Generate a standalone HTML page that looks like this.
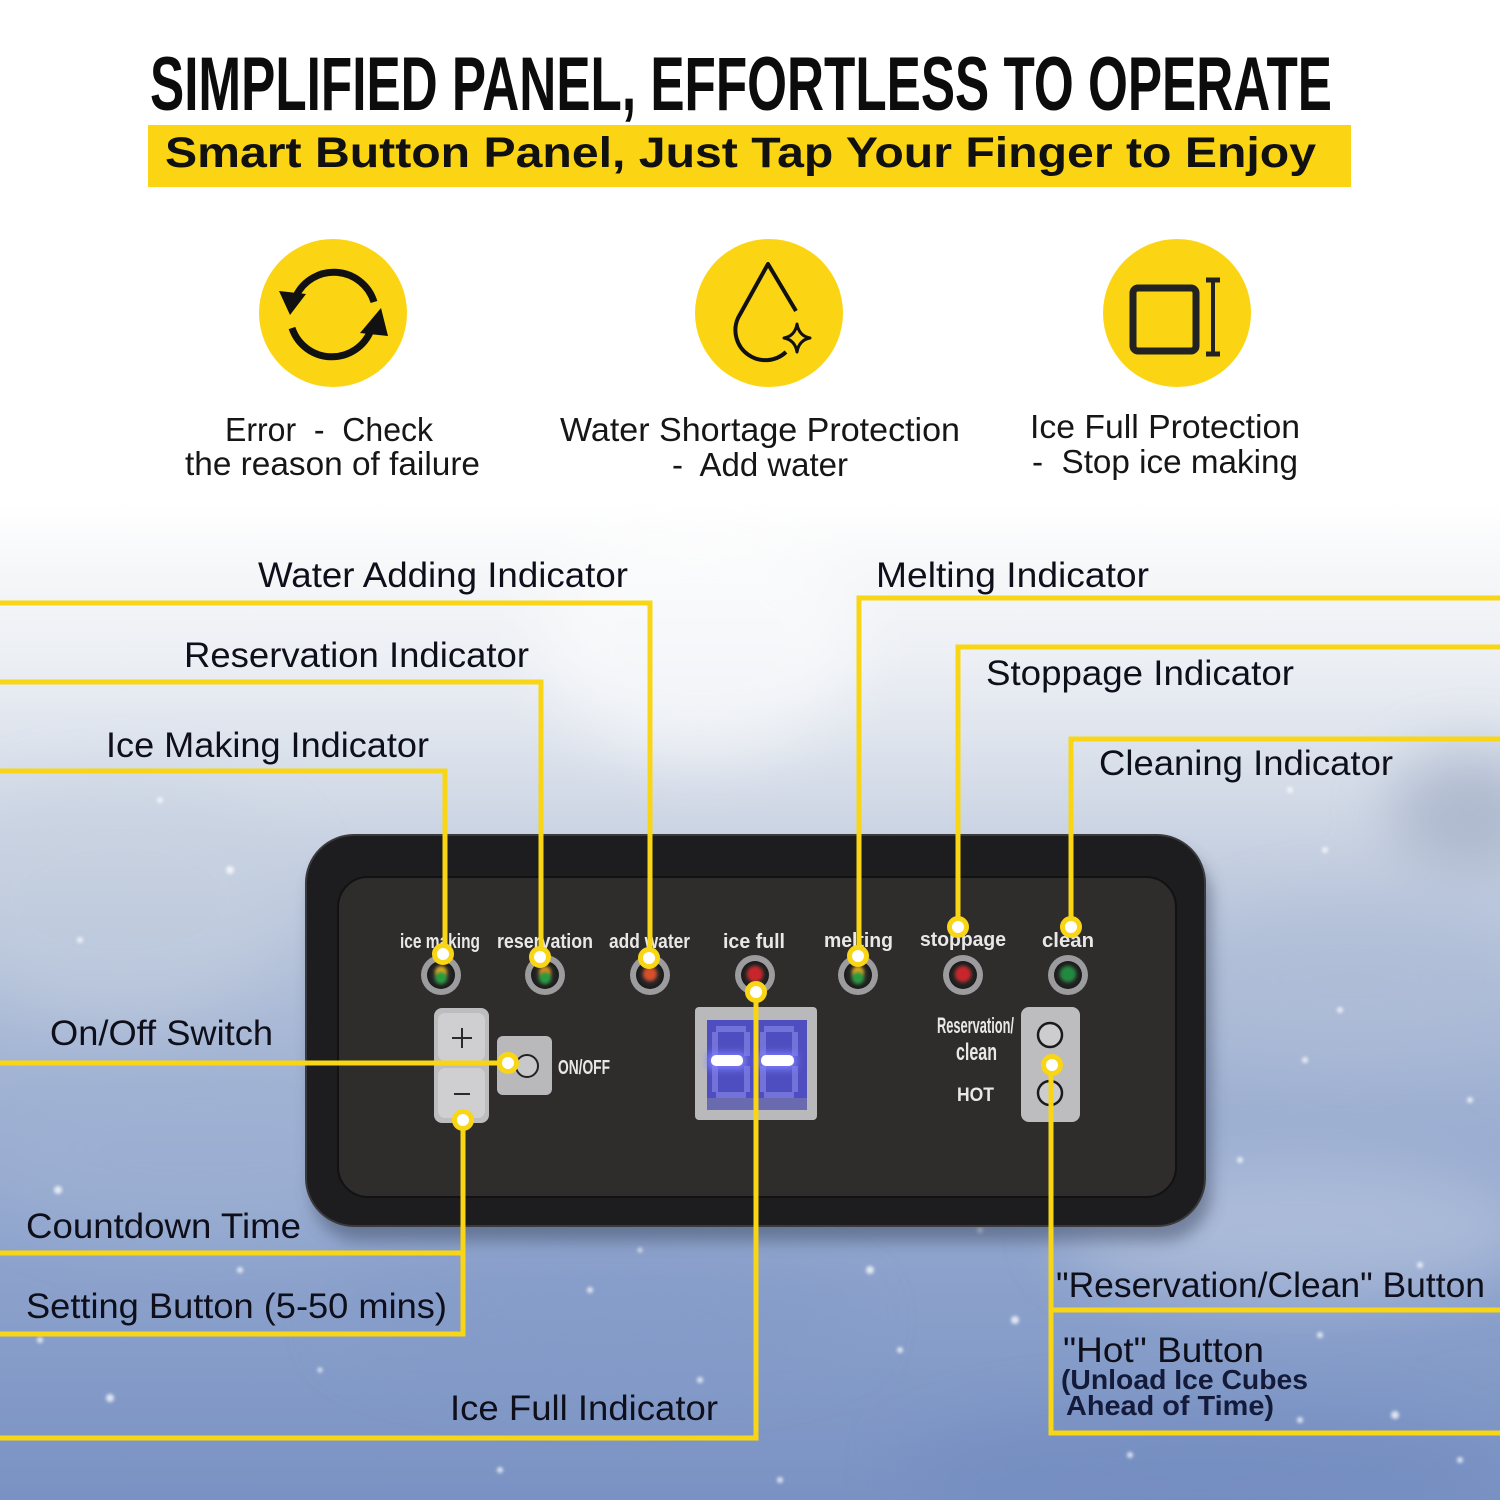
<!DOCTYPE html>
<html><head><meta charset="utf-8">
<style>
html,body{margin:0;padding:0;width:1500px;height:1500px;overflow:hidden;background:#fff}
svg{display:block}
</style></head><body>
<svg width="1500" height="1500" viewBox="0 0 1500 1500" xmlns="http://www.w3.org/2000/svg">
<defs>
<linearGradient id="bg" x1="0" y1="0" x2="0" y2="1500" gradientUnits="userSpaceOnUse">
 <stop offset="0" stop-color="#ffffff"/>
 <stop offset="0.335" stop-color="#ffffff"/>
 <stop offset="0.38" stop-color="#f6f7f9"/>
 <stop offset="0.44" stop-color="#eceff4"/>
 <stop offset="0.50" stop-color="#dce2ec"/>
 <stop offset="0.57" stop-color="#c6d0e1"/>
 <stop offset="0.64" stop-color="#b2c0d9"/>
 <stop offset="0.74" stop-color="#9eb0d2"/>
 <stop offset="0.85" stop-color="#8ca2cc"/>
 <stop offset="1" stop-color="#7a92c3"/>
</linearGradient>
<filter id="b30" x="-50%" y="-50%" width="200%" height="200%"><feGaussianBlur stdDeviation="30"/></filter>
<filter id="b2" x="-50%" y="-50%" width="200%" height="200%"><feGaussianBlur stdDeviation="1.6"/></filter>
<filter id="b4" x="-50%" y="-50%" width="200%" height="200%"><feGaussianBlur stdDeviation="4"/></filter>
<filter id="sh" x="-20%" y="-20%" width="140%" height="140%"><feGaussianBlur stdDeviation="8"/></filter>
<radialGradient id="ledg" cx="0.5" cy="0.5" r="0.5"><stop offset="0" stop-color="#3a3a3a"/><stop offset="1" stop-color="#1a1a1a"/></radialGradient>
</defs>

<!-- background -->
<rect x="0" y="0" width="1500" height="1500" fill="url(#bg)"/>
<g filter="url(#b30)" opacity="0.5">
 <ellipse cx="700" cy="640" rx="160" ry="120" fill="#ffffff"/>
 <ellipse cx="120" cy="900" rx="180" ry="120" fill="#c7d1e0"/>
 <ellipse cx="1470" cy="810" rx="80" ry="60" fill="#8e9cb8"/>
 <ellipse cx="1350" cy="980" rx="160" ry="80" fill="#aebcd6"/>
 <ellipse cx="200" cy="1150" rx="220" ry="90" fill="#9fb2d4"/>
 <ellipse cx="1300" cy="1230" rx="240" ry="70" fill="#c3cde2"/>
 <ellipse cx="600" cy="1320" rx="260" ry="60" fill="#8299c8"/>
 <ellipse cx="1200" cy="1470" rx="300" ry="60" fill="#6f89bf"/>
</g>
<g fill="#ffffff" filter="url(#b2)" opacity="0.75">
 <circle cx="58" cy="1190" r="4"/><circle cx="240" cy="1270" r="3"/><circle cx="390" cy="1190" r="3"/>
 <circle cx="110" cy="1398" r="4"/><circle cx="320" cy="1370" r="2.5"/><circle cx="590" cy="1290" r="3"/>
 <circle cx="640" cy="1250" r="2.5"/><circle cx="700" cy="1380" r="3"/><circle cx="870" cy="1270" r="4"/>
 <circle cx="900" cy="1350" r="3"/><circle cx="980" cy="1230" r="3"/><circle cx="1015" cy="1320" r="4"/>
 <circle cx="1130" cy="1455" r="3"/><circle cx="1300" cy="1420" r="3"/><circle cx="1420" cy="1265" r="3"/>
 <circle cx="1395" cy="1415" r="4"/><circle cx="1460" cy="1460" r="3"/><circle cx="1320" cy="1335" r="3"/>
 <circle cx="1290" cy="790" r="3"/><circle cx="1325" cy="850" r="3"/><circle cx="1340" cy="1010" r="3"/>
 <circle cx="1305" cy="1060" r="3"/><circle cx="160" cy="800" r="3"/><circle cx="230" cy="870" r="4"/>
 <circle cx="80" cy="940" r="3"/><circle cx="500" cy="1470" r="3"/><circle cx="780" cy="1480" r="3"/>
 <circle cx="40" cy="1340" r="3"/><circle cx="1240" cy="1160" r="3"/><circle cx="1470" cy="1100" r="3"/>
</g>

<!-- Title -->
<text x="150" y="110" font-family="'Liberation Sans Narrow','Liberation Sans',sans-serif" font-weight="bold" font-size="76" fill="#0c0c0c" textLength="1182" lengthAdjust="spacingAndGlyphs">SIMPLIFIED PANEL, EFFORTLESS TO OPERATE</text>
<rect x="148" y="125" width="1203" height="62" fill="#FBD514"/>
<text x="165" y="167" font-family="'Liberation Sans',sans-serif" font-weight="bold" font-size="43" fill="#111" textLength="1151" lengthAdjust="spacingAndGlyphs">Smart Button Panel, Just Tap Your Finger to Enjoy</text>

<!-- Icons -->
<circle cx="333" cy="313" r="74" fill="#FBD514"/>
<circle cx="769" cy="313" r="74" fill="#FBD514"/>
<circle cx="1177" cy="313" r="74" fill="#FBD514"/>
<g fill="none" stroke="#111" stroke-width="7" stroke-linecap="butt">
 <path d="M 374 302 A 42 42 0 0 0 296 296"/>
 <path d="M 292 328 A 42 42 0 0 0 371 330"/>
</g>
<polygon points="279,291 306,294 290,315" fill="#111"/>
<polygon points="360,333 388,336 381,308" fill="#111"/>
<g fill="none" stroke="#111" stroke-width="4" stroke-linejoin="round">
 <path d="M 796 311 L 768 264 L 738 318 A 30 30 0 0 0 786 352"/>
 <path d="M797 324 Q799 336 810 338 Q799 340 797 352 Q795 340 784 338 Q795 336 797 324 Z" stroke-width="3"/>
</g>
<rect x="1133" y="288" width="63" height="63" rx="5" fill="none" stroke="#222" stroke-width="7"/>
<g stroke="#222" stroke-width="4"><line x1="1213" y1="279" x2="1213" y2="355"/><line x1="1206" y1="280" x2="1220" y2="280" stroke-width="5"/><line x1="1206" y1="354" x2="1220" y2="354" stroke-width="5"/></g>

<g font-family="'Liberation Sans',sans-serif" font-size="33" fill="#161616">
 <text x="225" y="441" textLength="208" lengthAdjust="spacingAndGlyphs" xml:space="preserve">Error  -  Check</text>
 <text x="185" y="475" textLength="295" lengthAdjust="spacingAndGlyphs">the reason of failure</text>
 <text x="560" y="441" textLength="400" lengthAdjust="spacingAndGlyphs">Water Shortage Protection</text>
 <text x="672" y="476" textLength="176" lengthAdjust="spacingAndGlyphs" xml:space="preserve">-  Add water</text>
 <text x="1030" y="438" textLength="270" lengthAdjust="spacingAndGlyphs">Ice Full Protection</text>
 <text x="1032" y="473" textLength="266" lengthAdjust="spacingAndGlyphs" xml:space="preserve">-  Stop ice making</text>
</g>

<!-- Panel -->
<rect x="312" y="850" width="899" height="391" rx="48" fill="#3b4660" opacity="0.5" filter="url(#sh)"/>
<rect x="306" y="835" width="899" height="391" rx="48" fill="#1d1c1e" stroke="#3a393b" stroke-width="2"/>
<rect x="338" y="877" width="838" height="320" rx="30" fill="#2f2c2c" stroke="#121212" stroke-width="2"/>

<!-- LED labels -->
<g font-family="'Liberation Sans Narrow','Liberation Sans',sans-serif" font-weight="bold" font-size="20" fill="#e8e8e8">
 <text x="400" y="948" textLength="80" lengthAdjust="spacingAndGlyphs">ice making</text>
 <text x="497" y="948" textLength="96" lengthAdjust="spacingAndGlyphs">reservation</text>
 <text x="609" y="948" textLength="81" lengthAdjust="spacingAndGlyphs">add water</text>
 <text x="723" y="948" textLength="62" lengthAdjust="spacingAndGlyphs">ice full</text>
 <text x="824" y="947" textLength="69" lengthAdjust="spacingAndGlyphs">melting</text>
 <text x="920" y="946" textLength="86" lengthAdjust="spacingAndGlyphs">stoppage</text>
 <text x="1042" y="947" textLength="52" lengthAdjust="spacingAndGlyphs">clean</text>
</g>
<!-- LEDs -->
<g>
 <g transform="translate(441,975)"><circle r="20" fill="#9c9c9e"/><circle r="14" fill="url(#ledg)"/><circle cx="0" cy="-3" r="6" fill="#d9a520" filter="url(#b2)"/><circle cx="0" cy="3" r="6" fill="#2a9a40" filter="url(#b2)"/></g>
 <g transform="translate(545,975)"><circle r="20" fill="#9c9c9e"/><circle r="14" fill="url(#ledg)"/><circle cx="0" cy="-3" r="6" fill="#d98a20" filter="url(#b2)"/><circle cx="0" cy="3" r="6" fill="#2a9a40" filter="url(#b2)"/></g>
 <g transform="translate(650,975)"><circle r="20" fill="#9c9c9e"/><circle r="14" fill="url(#ledg)"/><circle cx="0" cy="-1" r="7" fill="#d8502a" filter="url(#b2)"/></g>
 <g transform="translate(755,975)"><circle r="20" fill="#9c9c9e"/><circle r="14" fill="url(#ledg)"/><circle cx="0" cy="-1" r="8" fill="#c8282a" filter="url(#b2)"/></g>
 <g transform="translate(858,975)"><circle r="20" fill="#9c9c9e"/><circle r="14" fill="url(#ledg)"/><circle cx="0" cy="-3" r="6" fill="#d9a520" filter="url(#b2)"/><circle cx="0" cy="3" r="6" fill="#2a9a40" filter="url(#b2)"/></g>
 <g transform="translate(963,975)"><circle r="20" fill="#9c9c9e"/><circle r="14" fill="url(#ledg)"/><circle cx="0" cy="-1" r="8" fill="#c8282a" filter="url(#b2)"/></g>
 <g transform="translate(1068,975)"><circle r="20" fill="#9c9c9e"/><circle r="14" fill="url(#ledg)"/><circle cx="0" cy="-1" r="8" fill="#228a40" filter="url(#b2)"/></g>
</g>

<!-- +/- block -->
<rect x="434" y="1008" width="55" height="115" rx="8" fill="#bdbdbf"/>
<rect x="438" y="1013" width="47" height="48" rx="7" fill="#cfcfd1"/>
<rect x="438" y="1068" width="47" height="50" rx="7" fill="#cfcfd1"/>
<g stroke="#2a2a2a" stroke-width="2"><line x1="452" y1="1038" x2="472" y2="1038"/><line x1="462" y1="1028" x2="462" y2="1048"/><line x1="454" y1="1094" x2="470" y2="1094"/></g>
<!-- ON/OFF -->
<rect x="497" y="1036" width="55" height="59" rx="6" fill="#b9b9bb"/>
<circle cx="527" cy="1066" r="11" fill="#c8c8ca" stroke="#222" stroke-width="2"/>
<text x="558" y="1074" font-family="'Liberation Sans Narrow','Liberation Sans',sans-serif" font-weight="bold" font-size="20" fill="#e8e8e8" textLength="52" lengthAdjust="spacingAndGlyphs">ON/OFF</text>

<!-- Display -->
<rect x="695" y="1007" width="122" height="113" rx="4" fill="#b9b9bc"/>
<rect x="707" y="1020" width="100" height="90" fill="#4e4ec0"/>
<g fill="#7c7ce0" opacity="0.8">
 <rect x="716" y="1026" width="30" height="6"/><rect x="712" y="1032" width="6" height="24"/><rect x="744" y="1032" width="6" height="24"/>
 <rect x="712" y="1066" width="6" height="26"/><rect x="744" y="1066" width="6" height="26"/><rect x="716" y="1092" width="30" height="6"/>
 <rect x="764" y="1026" width="30" height="6"/><rect x="760" y="1032" width="6" height="24"/><rect x="792" y="1032" width="6" height="24"/>
 <rect x="760" y="1066" width="6" height="26"/><rect x="792" y="1066" width="6" height="26"/><rect x="764" y="1092" width="30" height="6"/>
</g>
<rect x="707" y="1098" width="100" height="12" fill="#6a6ab0"/>
<g filter="url(#b4)" fill="#8080ff"><rect x="708" y="1053" width="38" height="16"/><rect x="758" y="1053" width="38" height="16"/></g>
<rect x="711" y="1055" width="32" height="11" rx="5" fill="#ffffff"/>
<rect x="761" y="1055" width="33" height="11" rx="5" fill="#ffffff"/>

<!-- Right buttons -->
<g font-family="'Liberation Sans Narrow','Liberation Sans',sans-serif" font-weight="bold" fill="#e8e8e8">
 <text x="937" y="1033" font-size="22" textLength="77" lengthAdjust="spacingAndGlyphs">Reservation/</text>
 <text x="956" y="1060" font-size="24" textLength="41" lengthAdjust="spacingAndGlyphs">clean</text>
 <text x="957" y="1101" font-size="19" textLength="37" lengthAdjust="spacingAndGlyphs">HOT</text>
</g>
<rect x="1021" y="1007" width="59" height="115" rx="8" fill="#bdbdbf"/>
<circle cx="1050" cy="1035" r="12" fill="#cdcdcf" stroke="#1a1a1a" stroke-width="2.5"/>
<circle cx="1050" cy="1093" r="12" fill="#cdcdcf" stroke="#1a1a1a" stroke-width="2.5"/>

<!-- Connector lines -->
<g fill="none" stroke="#F8D616" stroke-width="5" stroke-linejoin="miter">
 <polyline points="0,603 650,603 650,958"/>
 <polyline points="0,682 541,682 541,957"/>
 <polyline points="0,771 445,771 445,954"/>
 <polyline points="1500,598 859,598 859,957"/>
 <polyline points="1500,647 958,647 958,927"/>
 <polyline points="1500,739 1071,739 1071,927"/>
 <line x1="0" y1="1063" x2="508" y2="1063"/>
 <polyline points="0,1253 463,1253"/>
 <polyline points="463,1120 463,1334 0,1334"/>
 <polyline points="756,992 756,1438 0,1438"/>
 <polyline points="1051,1065 1051,1433 1500,1433"/>
 <line x1="1051" y1="1310" x2="1500" y2="1310"/>
</g>
<g fill="#ffffff" stroke="#F8D616" stroke-width="5">
 <circle cx="443" cy="954" r="8.5"/>
 <circle cx="540" cy="957" r="8.5"/>
 <circle cx="649" cy="958" r="8.5"/>
 <circle cx="756" cy="992" r="8.5"/>
 <circle cx="858" cy="956" r="8.5"/>
 <circle cx="958" cy="927" r="8.5"/>
 <circle cx="1071" cy="927" r="8.5"/>
 <circle cx="508" cy="1063" r="8.5"/>
 <circle cx="463" cy="1120" r="8.5"/>
 <circle cx="1052" cy="1065" r="8.5"/>
</g>

<!-- Labels -->
<g font-family="'Liberation Sans',sans-serif" font-size="35" fill="#0e0f1a">
 <text x="258" y="587" textLength="370" lengthAdjust="spacingAndGlyphs">Water Adding Indicator</text>
 <text x="184" y="667" textLength="345" lengthAdjust="spacingAndGlyphs">Reservation Indicator</text>
 <text x="106" y="757" textLength="323" lengthAdjust="spacingAndGlyphs">Ice Making Indicator</text>
 <text x="876" y="587" textLength="273" lengthAdjust="spacingAndGlyphs">Melting Indicator</text>
 <text x="986" y="685" textLength="308" lengthAdjust="spacingAndGlyphs">Stoppage Indicator</text>
 <text x="1099" y="775" textLength="294" lengthAdjust="spacingAndGlyphs">Cleaning Indicator</text>
 <text x="50" y="1045" textLength="223" lengthAdjust="spacingAndGlyphs">On/Off Switch</text>
 <text x="26" y="1238" textLength="275" lengthAdjust="spacingAndGlyphs">Countdown Time</text>
 <text x="26" y="1318" textLength="421" lengthAdjust="spacingAndGlyphs">Setting Button (5-50 mins)</text>
 <text x="450" y="1420" textLength="268" lengthAdjust="spacingAndGlyphs">Ice Full Indicator</text>
 <text x="1056" y="1297" textLength="429" lengthAdjust="spacingAndGlyphs">"Reservation/Clean" Button</text>
 <text x="1063" y="1362" textLength="201" lengthAdjust="spacingAndGlyphs">"Hot" Button</text>
</g>
<g font-family="'Liberation Sans Narrow','Liberation Sans',sans-serif" font-weight="bold" font-size="28" fill="#141a3a">
 <text x="1061" y="1389" textLength="247" lengthAdjust="spacingAndGlyphs">(Unload Ice Cubes</text>
 <text x="1066" y="1415" textLength="208" lengthAdjust="spacingAndGlyphs">Ahead of Time)</text>
</g>
</svg>
</body></html>
